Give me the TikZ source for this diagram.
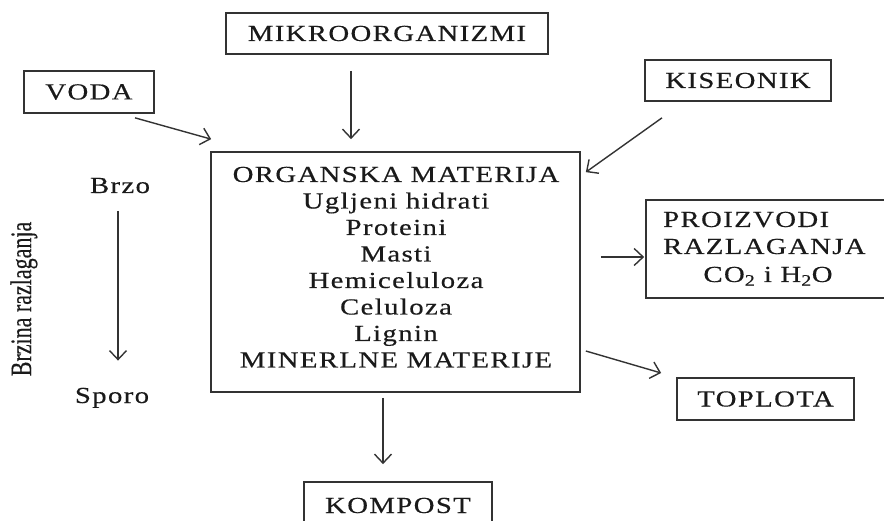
\documentclass[tikz,border=0pt]{standalone}
\usepackage{fontspec}
\setmainfont{Liberation Serif}[FakeStretch=1.25,LetterSpace=6,FakeBold=0.4]
\newfontfamily\rotfont{Liberation Serif}[FakeBold=0.4]
\usetikzlibrary{arrows.meta,calc}
\definecolor{ln}{HTML}{333333}
\definecolor{tx}{HTML}{1A1A1A}
\tikzset{
 box/.style={draw=ln, line width=1.7pt, inner sep=0pt, text=tx, font=\fontsize{23}{26.5}\selectfont},
 lbl/.style={inner sep=0pt, text=tx, font=\fontsize{23}{26.5}\selectfont},
 arr/.style={draw=ln, line width=1.4pt, -{Straight Barb[length=9pt,width=17pt]}},
}
\begin{document}
\begin{tikzpicture}[x=1pt,y=-1pt]
\useasboundingbox (0,0) rectangle (884,521);
\fill[white] (0,0) rectangle (884,521);
% boxes
\node[box, minimum width=322pt, minimum height=41pt] (mikro) at (387,33.5) {MIKROORGANIZMI};
\node[box, minimum width=130pt, minimum height=42pt] (voda) at (89,92) {VODA};
\node[box, minimum width=186pt, minimum height=41pt] (kis) at (738,80.5) {KISEONIK};
\node[box, minimum width=369pt, minimum height=240pt] (org) at (395.5,272) {};
\node[box, minimum width=250pt, minimum height=98pt] (prod) at (771,249) {};
\node[box, minimum width=177pt, minimum height=42pt] (top) at (765.5,399) {TOPLOTA};
\node[box, minimum width=188pt, minimum height=80pt] (komp) at (398,522) {};
% texts in the organic matter box
\node[lbl, anchor=base] (o1) at (396,182) {ORGANSKA MATERIJA};
\node[lbl, anchor=base] (o2) at (396,208.5) {Ugljeni hidrati};
\node[lbl, anchor=base] (o3) at (396,235) {Proteini};
\node[lbl, anchor=base] (o4) at (396,261.5) {Masti};
\node[lbl, anchor=base] (o5) at (396,288) {Hemiceluloza};
\node[lbl, anchor=base] (o6) at (396,314.5) {Celuloza};
\node[lbl, anchor=base] (o7) at (396,341) {Lignin};
\node[lbl, anchor=base] (o8) at (396,367.5) {MINERLNE MATERIJE};
% products
\node[lbl, anchor=base west] (p1) at (663,227) {PROIZVODI};
\node[lbl, anchor=base west] (p2) at (663,254) {RAZLAGANJA};
\node[lbl, anchor=base] (p3) at (768,282) {CO\textsubscript{2} i H\textsubscript{2}O};
% compost text
\node[lbl, anchor=base] (k1) at (398,513) {KOMPOST};
% speed
\node[lbl, anchor=base] (brzo) at (120,193) {Brzo};
\node[lbl, anchor=base] (sporo) at (112,403) {Sporo};
\node[lbl, rotate=90, font=\rotfont\fontsize{22}{26}\selectfont] (brzina) at (24,299) {\scalebox{1}[1.35]{Brzina razlaganja}};
% arrows
\draw[arr] ($(voda.south)+(46,4)$) -- ($(org.north west)+(1,-12)$);
\draw[arr] ($(mikro.south)+(-36,16)$) -- ($(org.north)+(-44.5,-12)$);
\draw[arr] ($(kis.south)+(-76,16)$) -- ($(org.north east)+(5,21)$);
\draw[arr] ($(org.east)+(20,-15)$) -- ($(prod.west)+(-1,8)$);
\draw[arr] ($(org.east)+(5,79)$) -- ($(top.west)+(-15,-26)$);
\draw[arr] ($(org.south)+(-12.5,5)$) -- ($(komp.north)+(-15,-17)$);
\draw[arr] ($(brzo.base)+(-2,18)$) -- ($(sporo.north)+(6,-27)$);
\end{tikzpicture}
\end{document}
